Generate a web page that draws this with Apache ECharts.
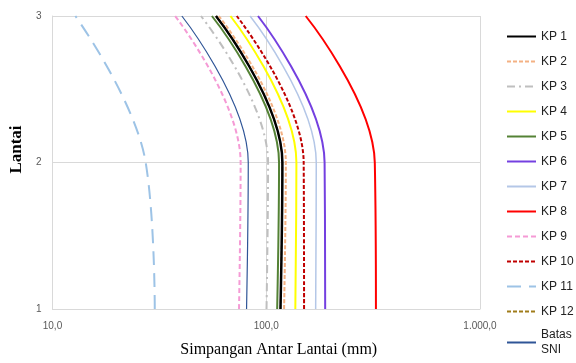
<!DOCTYPE html>
<html>
<head>
<meta charset="utf-8">
<script src="https://cdn.jsdelivr.net/npm/echarts@6/dist/echarts.min.js"></script>
<style>
    html, body { margin: 0; padding: 0; background: #fff; }
    #main { width: 576px; height: 363px; }
</style>
</head>
<body>
<div id="main"></div>
<script>
// lantai (sumbu y)
const lantai = [1, 2, 3]
// simpangan antar lantai (mm) per lantai 1, 2, 3
const kp1 = [116.6, 119.0, 58.2]
const kp2 = [121.2, 123.5, 60.0]
const kp3 = [100.3, 102.0, 49.5]
const kp4 = [136.8, 138.4, 68.0]
const kp5 = [112.5, 114.8, 55.7]
const kp6 = [188.7, 187.5, 91.5]
const kp7 = [170.3, 171.4, 84.0]
const kp8 = [326.0, 322.0, 153.0]
const kp9 = [74.6, 75.9, 37.5]
const kp10 = [150.3, 149.7, 72.8]
const kp11 = [30.1, 27.3, 12.8]
const kp12 = [116.6, 119.0, 58.2]
const batasSNI = [80.9, 82.4, 40.3]

const xTicks = [10, 100, 1000]
const xTickLabels = ['10,0', '100,0', '1.000,0']

const seriesDef = [
    {name: 'KP 1', data: kp1, color: '#000000', width: 2.5, type: 'solid'},
    {name: 'KP 2', data: kp2, color: '#F4B183', width: 2, type: [4, 2]},
    {name: 'KP 3', data: kp3, color: '#BFBFBF', width: 2, type: [8, 4, 2, 4]},
    {name: 'KP 4', data: kp4, color: '#FFFF00', width: 2, type: 'solid'},
    {name: 'KP 5', data: kp5, color: '#548235', width: 2, type: 'solid'},
    {name: 'KP 6', data: kp6, color: '#7440E0', width: 2, type: 'solid'},
    {name: 'KP 7', data: kp7, color: '#B4C7E7', width: 1.5, type: 'solid'},
    {name: 'KP 8', data: kp8, color: '#FF0000', width: 2, type: 'solid'},
    {name: 'KP 9', data: kp9, color: '#F59AD5', width: 2, type: [5, 3]},
    {name: 'KP 10', data: kp10, color: '#C00000', width: 2, type: [4, 2]},
    {name: 'KP 11', data: kp11, color: '#9DC3E6', width: 2, type: [14, 8]},
    {name: 'KP 12', data: kp12, color: '#A07C1A', width: 1.5, type: [4, 2], z: 1},
    {name: 'Batas Izin SNI', data: batasSNI, color: '#2F5597', width: 1.2, type: 'solid'}
]

var myChart = echarts.init(document.getElementById('main'))

const series = seriesDef.map((s) => ({
    name: s.name,
    type: 'line',
    smooth: 0.4,
    symbol: 'none',
    z: s.z || 2,
    data: lantai.map((y, i) => [s.data[i], y]),
    lineStyle: {color: s.color, width: s.width, type: s.type},
    itemStyle: {color: s.color}
}))

// label dua baris: baris pertama sejajar dengan garis ikon
const legendData = seriesDef.map(({name}) => {
    if (name === 'Batas Izin SNI') {
        return {name: name, textStyle: {verticalAlign: 'top', padding: [-7, 0, 0, 0]}}
    }
    return {name: name}
})

myChart.setOption({
    animation: false,
    backgroundColor: '#fff',
    grid: {left: 48, top: 16, right: 96, bottom: 51, containLabel: false},
    legend: {
        orient: 'vertical',
        left: 506,
        top: 29,
        height: 400,
        padding: 0,
        itemWidth: 29,
        itemHeight: 14,
        itemGap: 10,
        itemStyle: {opacity: 0},
        data: legendData,
        formatter: (name) => name === 'Batas Izin SNI' ? 'Batas Izin\nSNI' : name,
        textStyle: {
            fontFamily: '"Liberation Sans Narrow", "Liberation Sans", sans-serif',
            fontSize: 12,
            color: '#222',
            lineHeight: 15
        }
    },
    xAxis: {
        type: 'log',
        logBase: 10,
        min: xTicks[0],
        max: xTicks[xTicks.length - 1],
        name: 'Simpangan Antar Lantai (mm)',
        nameLocation: 'middle',
        nameGap: 33,
        nameTextStyle: {
            fontFamily: '"Liberation Serif", serif',
            fontSize: 16,
            color: '#000',
            padding: [0, 0, 0, 25]
        },
        axisLine: {show: true, lineStyle: {color: '#D9D9D9'}},
        axisTick: {show: false},
        axisLabel: {
            margin: 12,
            color: '#595959',
            fontFamily: '"Liberation Sans", sans-serif',
            fontSize: 10,
            formatter: (v) => {
                const i = xTicks.indexOf(Math.round(v))
                return i >= 0 ? xTickLabels[i] : ''
            }
        },
        splitLine: {show: true, lineStyle: {color: '#D9D9D9'}}
    },
    yAxis: {
        type: 'value',
        min: 1,
        max: 3,
        interval: 1,
        name: 'Lantai',
        nameLocation: 'middle',
        nameGap: 24,
        nameTextStyle: {
            fontFamily: '"Liberation Serif", serif',
            fontSize: 17,
            fontWeight: 'bold',
            color: '#000',
            padding: [0, 0, 0, 26]
        },
        axisLine: {show: true, lineStyle: {color: '#D9D9D9'}},
        axisTick: {show: false},
        axisLabel: {
            margin: 11,
            color: '#595959',
            fontFamily: '"Liberation Sans", sans-serif',
            fontSize: 10
        },
        splitLine: {show: true, lineStyle: {color: '#D9D9D9'}}
    },
    series: series
})
</script>
</body>
</html>
